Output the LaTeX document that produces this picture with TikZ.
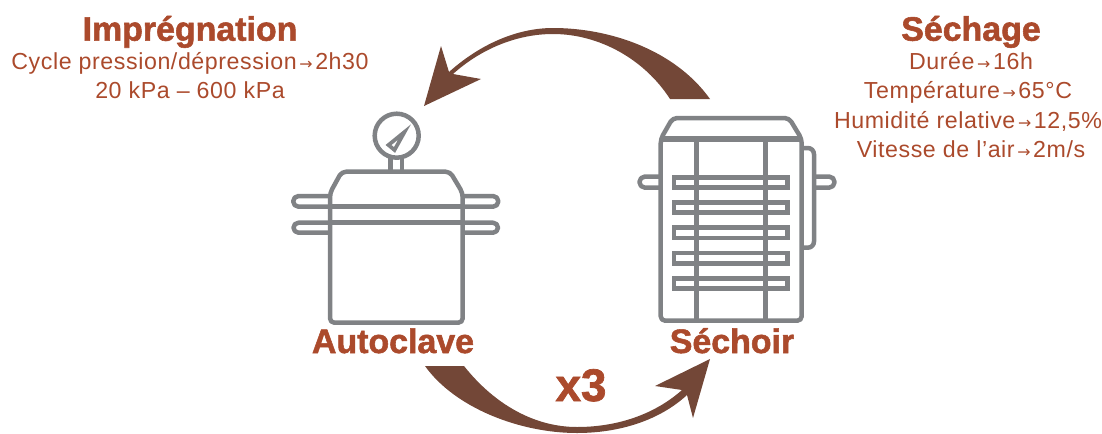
\documentclass[tikz,border=0pt]{standalone}
\usepackage{fontspec}
\setmainfont[LetterSpace=2.5]{Liberation Sans}
\newfontfamily\titlefont[BoldFeatures={FakeBold=1.6}]{Liberation Sans}
\newfontfamily\arrowfont{DejaVu Sans}
\definecolor{rust}{HTML}{AB4A2C}
\definecolor{cocoa}{HTML}{734737}
\definecolor{steel}{HTML}{808285}
\newcommand{\toarrow}{\hspace{1.5pt}{\arrowfont\fontsize{9}{10}\selectfont →}\hspace{1.5pt}}
\tikzset{
	title/.style={text=rust, inner sep=0pt, anchor=base, font=\titlefont\bfseries\fontsize{19.3}{21}\selectfont},
	param/.style={text=rust, inner sep=0pt, anchor=base, font=\fontsize{13.2}{15}\selectfont},
	icon/.style={draw=steel, line width=0.09cm, line join=round},
	heavy/.style={draw=steel, line width=0.11cm},
	sweep/.style={fill=cocoa}
}
\begin{document}
\begin{tikzpicture}[x=0.02cm, y=-0.02cm]
\useasboundingbox (0, 0) rectangle (1102, 433);

% texts
\node[title] (impregnation) at (190, 40.7) {Imprégnation};
\node[param] (cycle) at (190, 69) {Cycle pression/dépression\toarrow2h30};
\node[param] (pressure) at (190, 98.5) {20 kPa -- 600 kPa};
\node[title] (sechage) at (971, 40.7) {Séchage};
\node[param] (duree) at (971, 69) {Durée\toarrow16h};
\node[param] (temperature) at (968, 98.5) {Température\toarrow65°C};
\node[param] (humidity) at (968, 128) {Humidité relative\toarrow12,5\%};
\node[param] (speed) at (971, 157) {Vitesse de l'air\toarrow2m/s};
\node[title] (autoclave) at (393, 353) {Autoclave};
\node[title] (sechoir) at (732, 353) {Séchoir};
\node[title, font=\titlefont\bfseries\fontsize{26}{28}\selectfont] (times) at (581, 401) {x3};

% autoclave
\draw[icon] (396.7, 135.7) circle (22);
\draw[icon, line width=0.075cm, line join=miter] (404.5, 132) -- (388.5, 145) -- (394.5, 150) -- cycle;
\draw[icon] (390.7, 158) -- (390.7, 171.7) (402, 158) -- (402, 171.7);
\draw[icon, rounded corners=2.5] (330, 193) -- (341.7, 171.7) -- (450, 171.7) -- (462.7, 193)
	-- (462.7, 322.7) -- (330, 322.7) -- cycle;
\foreach \y in {206.7, 222.7}
	\draw[heavy] (330, \y) -- (462.7, \y);
\foreach \y/\z in {196/206.7, 222.7/232.7}{
	\draw[icon] (330, \y) -- (298.5, \y) arc (270:90:{(\z-\y)/2}) -- (330, \z);
	\draw[icon] (462.7, \y) -- (493, \y) arc (-90:90:{(\z-\y)/2}) -- (462.7, \z);
}

% sechoir
\draw[icon, rounded corners=2.5] (660.7, 139) -- (672.7, 118) -- (789, 118) -- (801.7, 139)
	-- (801.7, 320.7) -- (660.7, 320.7) -- cycle;
\draw[heavy] (660.7, 139) -- (801.7, 139);
\foreach \y in {177.3, 202.3, 227.7, 253, 278.3}
	\draw[icon, line join=miter] (674, \y) rectangle (787.3, \y+10.4);
\foreach \x in {696.3, 765.3}
	\draw[icon] (\x, 139) -- (\x, 320.7);
\draw[icon, rounded corners=3.5] (801.7, 148) -- (814, 148) -- (814, 247.7) -- (801.7, 247.7);
\draw[icon] (660.7, 176.5) -- (645, 176.5) arc (270:90:5.6) -- (660.7, 187.7);
\draw[icon] (814, 176.5) -- (829, 176.5) arc (-90:90:5.6) -- (814, 187.7);

% arrows
\fill[sweep] (710, 99) .. controls (675, 50) and (610, 28) .. (553, 28)
	.. controls (515, 28) and (478, 46) .. (449, 72)
	-- (441, 46) -- (424, 106) -- (481, 79) -- (453, 74)
	.. controls (482, 48) and (518, 34) .. (553, 34)
	.. controls (600, 34) and (645, 60) .. (670, 99) -- cycle;
\fill[sweep] (425, 366) .. controls (455, 408) and (520, 433) .. (577, 433)
	.. controls (620, 433) and (660, 420) .. (687, 395)
	-- (693, 418) -- (710, 359) -- (655, 386) -- (682, 390)
	.. controls (655, 414) and (618, 427) .. (577, 427)
	.. controls (535, 427) and (495, 405) .. (464, 366) -- cycle;
\end{tikzpicture}
\end{document}
